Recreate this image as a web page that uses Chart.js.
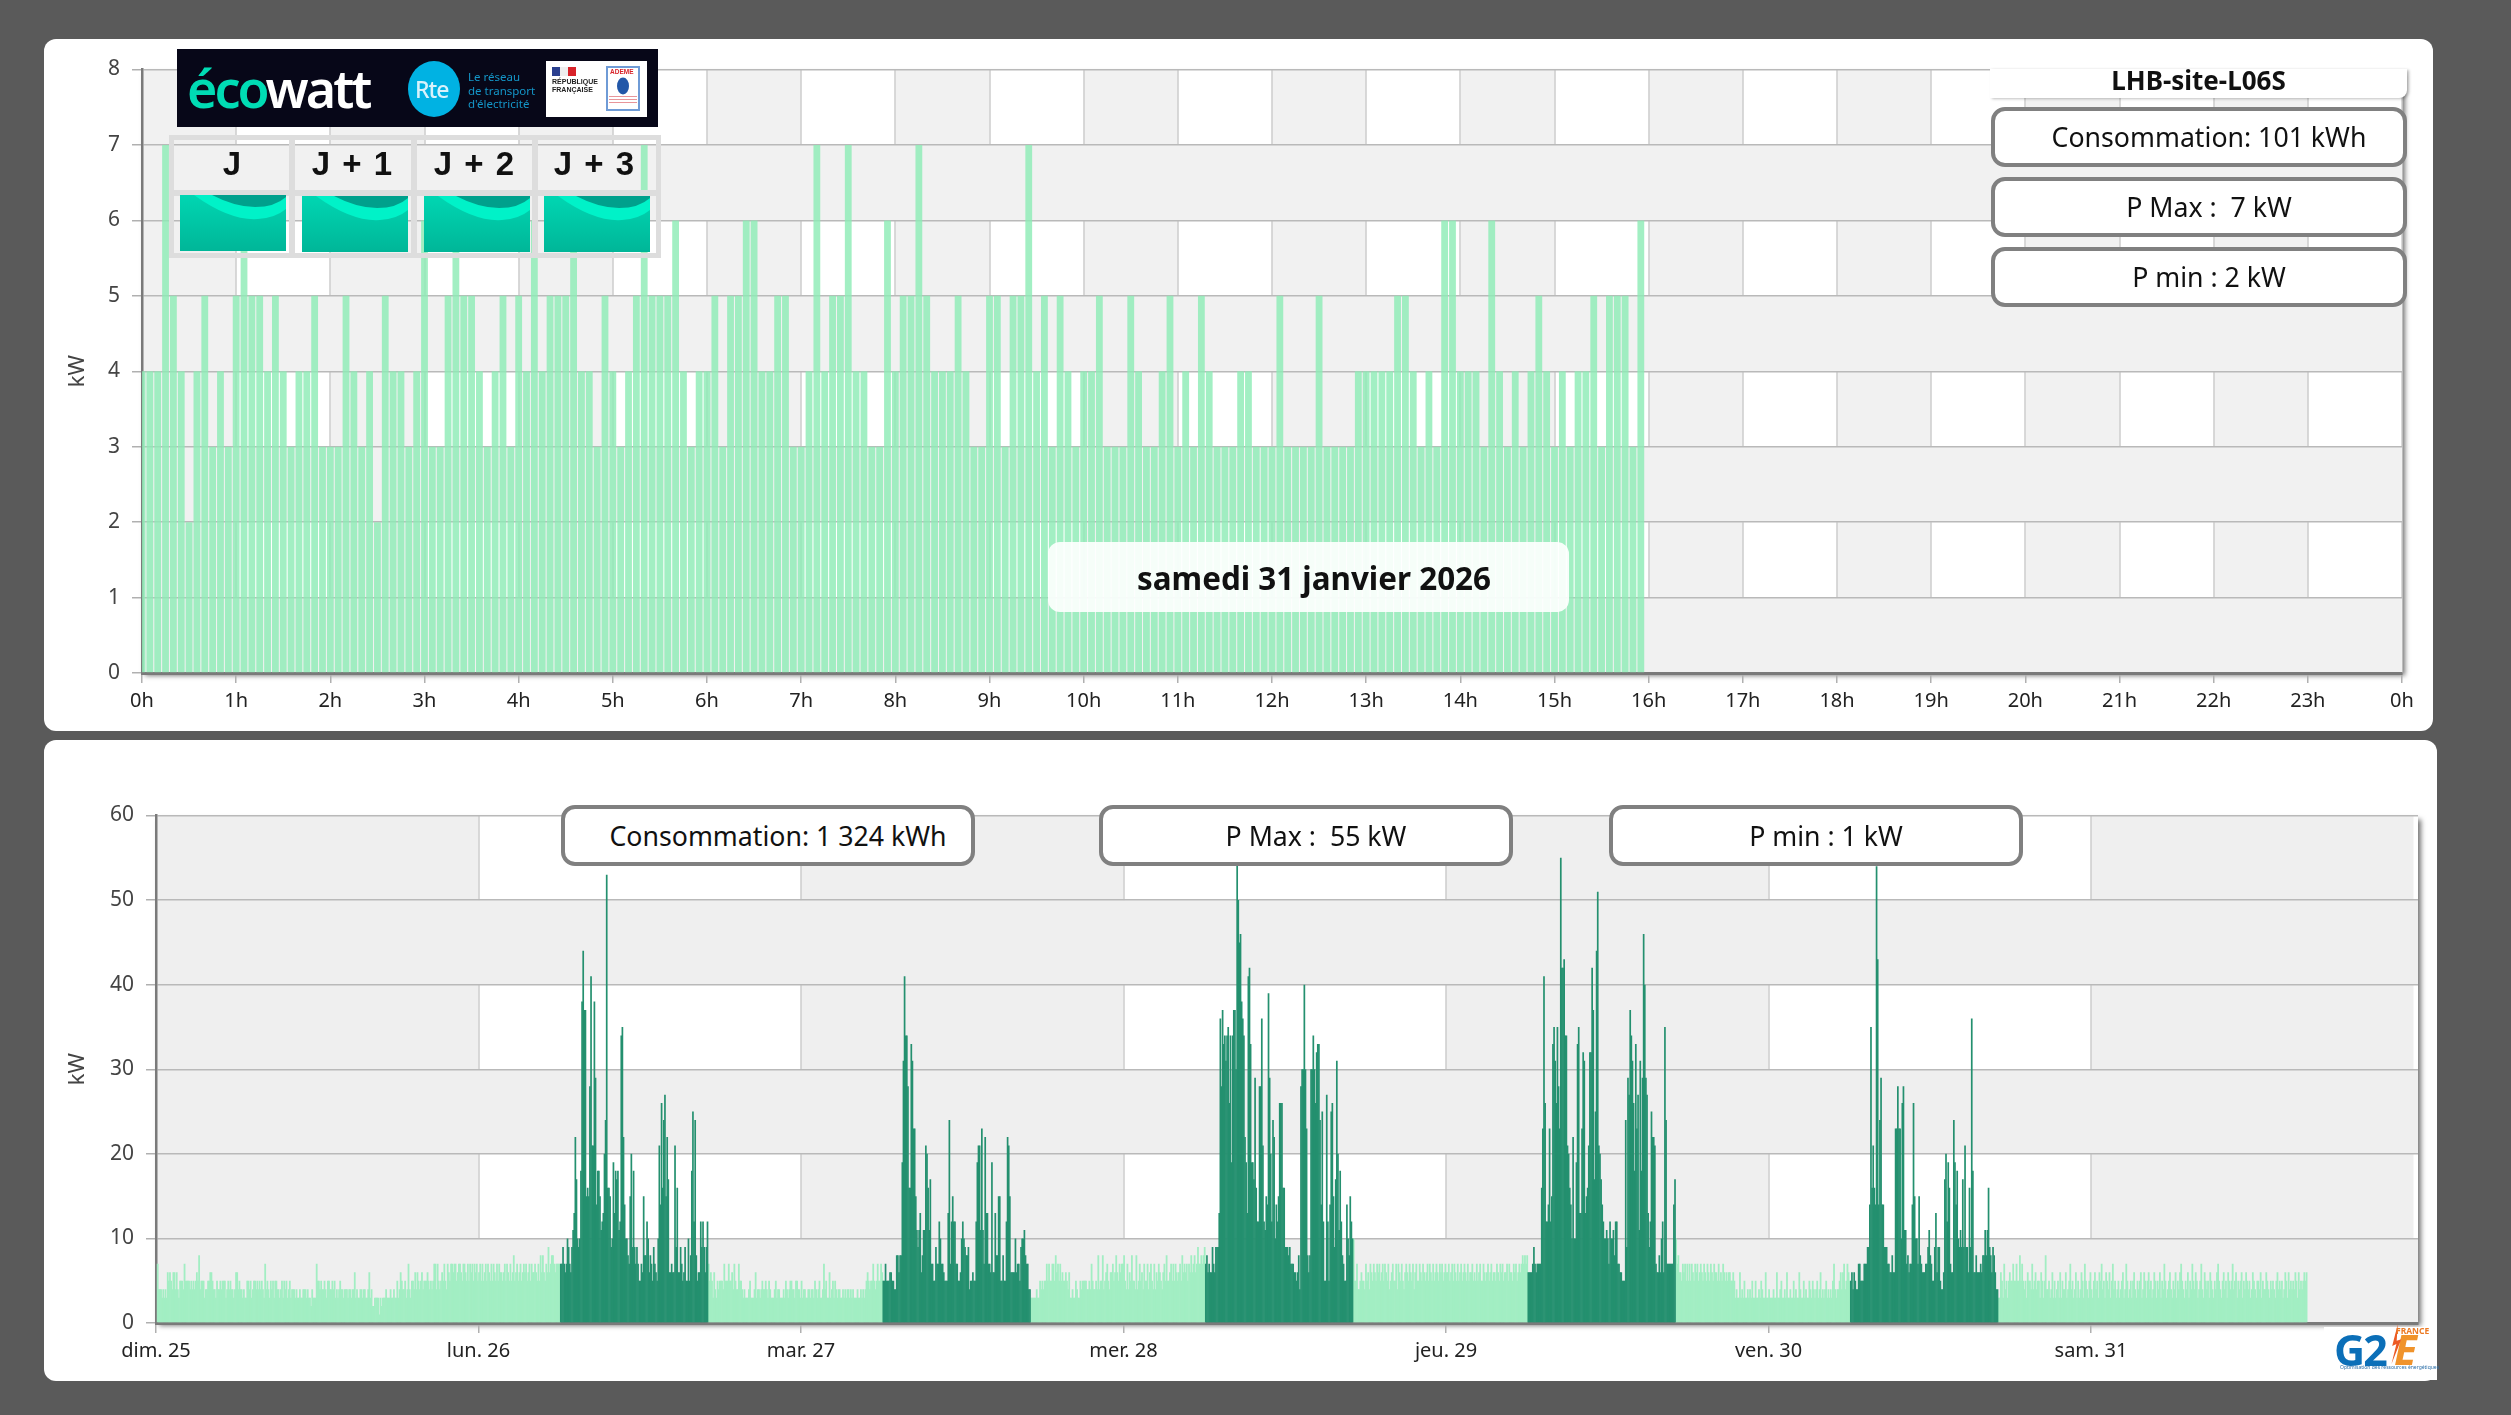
<!DOCTYPE html>
<html lang="fr">
<head>
<meta charset="utf-8">
<title>LHB-site-L06S</title>
<script src="https://cdn.jsdelivr.net/npm/chart.js@4/dist/chart.umd.min.js"></script>
<style>
    html, body { margin: 0; padding: 0; width: 2511px; height: 1415px; overflow: hidden; background: #5a5a5a; font-family: "Noto Sans", sans-serif; }
    .panel { position: absolute; background: #fff; border-radius: 12px; }
    canvas { position: absolute; }
    .box { position: absolute; box-sizing: border-box; background: #fff; border: 4px solid #808080; border-radius: 14px; font-size: 26.7px; color: #111; text-align: center; padding-left: 20px; white-space: pre; }
    .abs { position: absolute; white-space: pre; }
    #sitetitle { left: 1990px; top: 69px; width: 417px; height: 29px; background: #fff; border-bottom-right-radius: 8px; box-shadow: 2px 1px 3px rgba(0,0,0,.25); text-align: center; font-weight: 700; font-size: 26px; line-height: 22px; color: #111; }
    #datebox { box-sizing: border-box; left: 1048px; top: 542px; width: 521px; height: 70px; padding-left: 11px; background: rgba(255,255,255,.9); border-radius: 12px; text-align: center; font-weight: 700; font-size: 31.4px; line-height: 72px; color: #111; }
    #banner { left: 177px; top: 49px; width: 481px; height: 78px; background: #070718; }
    #jtable { left: 169px; top: 135px; width: 492px; height: 123px; box-sizing: border-box; border: 5px solid #ddd; }
    .jsep { position: absolute; background: #ddd; }
    .jlabel { position: absolute; top: 1px; width: 116px; text-align: center; font: 700 33px "Liberation Sans", sans-serif; color: #111; line-height: 46px; word-spacing: 3px; }
</style>
</head>
<body>

<div class="panel" style="left:44px;top:39px;width:2389px;height:692px"></div>
<div class="panel" style="left:44px;top:740px;width:2393px;height:641px"></div>
<canvas id="dayChart" width="2389" height="692" style="left:44px;top:39px"></canvas>
<canvas id="weekChart" width="2393" height="641" style="left:44px;top:740px"></canvas>

<div id="overlays"></div>

<script>
// top chart, one bar every 5 minutes, saturday 31 from 0h to 16h
var todayValues = [
    4,4,4,7,5,4,2,4,5,3,4,3,
    5,6,5,5,4,5,4,3,4,4,5,3,
    3,3,5,4,3,4,2,5,4,4,3,4,
    6,3,3,5,6,5,5,4,3,4,5,3,
    5,4,6,4,5,5,5,6,4,4,3,5,
    4,3,4,5,7,5,5,5,6,4,3,4,
    4,5,3,5,5,6,6,4,4,5,5,3,
    3,4,7,4,5,5,7,4,4,3,3,6,
    4,5,5,7,5,4,4,4,5,4,3,3,
    5,5,3,5,5,7,4,5,3,5,4,3,
    4,4,5,3,3,3,5,4,3,3,4,5,
    3,4,3,5,4,3,3,3,4,4,3,3,
    3,5,3,3,3,3,5,3,3,3,3,4,
    4,4,4,4,5,5,4,3,4,3,6,6,
    4,4,4,3,6,4,3,4,3,4,5,4,
    3,4,3,4,4,5,3,5,5,5,3,6
]
var hourLabels = ['0h','1h','2h','3h','4h','5h','6h','7h','8h','9h','10h','11h','12h','13h','14h','15h','16h','17h','18h','19h','20h','21h','22h','23h','0h']

// bottom chart, one bar every 5 minutes, rows of one hour
var sunday = [
    7,4,4,4,3,4,3,4,3,6,5,6,
    5,4,6,6,4,6,4,3,5,5,5,4,
    7,5,5,5,5,4,5,4,5,4,5,6,
    5,8,4,5,5,5,3,4,4,5,5,6,
    6,5,4,4,3,5,4,4,5,4,5,5,
    5,3,4,5,4,5,4,4,3,4,6,6,
    4,5,4,4,3,4,3,3,5,5,4,5,
    3,4,5,5,4,5,4,5,4,5,4,3,
    7,4,5,4,3,5,4,5,3,5,5,4,
    4,3,4,5,3,5,4,5,3,4,5,3,
    4,4,4,3,4,3,3,4,3,3,4,4,
    4,3,4,3,3,2,4,3,3,3,7,5,
    5,4,5,4,4,5,4,3,5,5,4,4,
    5,4,5,3,4,3,4,5,4,4,3,4,
    4,4,3,4,4,3,4,4,6,3,4,3,
    3,4,4,3,4,4,3,3,4,6,3,4,
    2,2,3,3,3,3,1,3,2,3,3,3,
    4,3,3,3,4,3,3,4,3,3,5,3,
    4,6,5,4,4,5,3,4,7,4,3,5,
    5,4,6,4,6,5,4,5,6,4,5,5,
    5,6,5,4,5,4,5,7,7,4,7,5,
    4,5,6,5,7,5,4,7,6,5,7,7,
    6,7,7,5,6,7,7,6,5,7,7,6,
    5,7,5,7,6,7,5,7,6,7,5,6
]
var mondayNight = [
    7,5,7,5,6,7,5,7,6,5,7,5,
    7,6,5,7,5,7,6,6,5,6,7,5,
    7,6,5,7,5,6,8,5,6,7,5,6,
    7,5,6,7,6,7,5,6,7,5,7,6,
    6,7,6,5,7,5,8,6,8,6,5,7,
    6,9,6,7,8,8,7,6,7,7,7,7
]
var mondayWork = [
    7,7,9,7,6,7,10,9,7,6,9,11,
    13,22,17,10,9,10,18,38,44,37,37,15,
    16,15,28,41,21,21,38,29,14,18,18,15,
    11,12,13,20,24,53,16,16,15,9,10,19,
    13,18,17,18,11,12,34,35,22,14,10,10,
    8,7,15,20,9,18,9,7,9,7,5,5,
    7,6,15,8,8,12,10,6,8,7,5,9,
    7,6,5,10,21,14,26,16,24,27,15,22,
    17,6,6,7,6,6,21,9,16,6,6,9,
    7,5,6,9,5,5,10,5,8,18,25,12,
    24,8,5,6,6,12,9,12,9,6,9,12
]
var mondayEvening = [
    7,5,6,5,3,6,4,3,5,4,5,5,
    5,4,7,5,5,5,7,5,5,6,4,7,
    5,4,4,7,5,5,4,3,4,3,3,3,
    4,5,3,3,3,4,6,3,4,4,3,4,
    5,4,4,5,4,3,5,4,3,3,3,4,
    5,3,4,4,3,3,3,4,3,5,4,3,
    4,5,5,4,4,3,5,5,4,4,3,5
]
var tuesdayNight = [
    3,4,4,3,3,4,4,3,4,4,3,5,
    4,3,4,5,3,3,4,7,4,5,3,3,
    6,3,4,5,3,5,4,3,4,4,3,3,
    4,3,4,3,4,4,3,4,3,4,3,3,
    3,4,3,3,4,3,4,3,4,5,6,5,
    4,5,5,7,5,4,5,7,5,5,7,6
]
var tuesdayWork = [
    5,5,7,5,5,5,6,6,5,5,4,4,
    8,8,6,8,8,19,31,41,34,34,28,16,
    16,33,31,23,23,15,11,9,11,13,6,8,
    11,11,21,20,16,11,17,7,7,5,5,9,
    7,7,12,10,7,7,6,5,5,5,13,24,
    7,12,15,12,12,7,7,5,5,6,10,12,
    10,9,8,8,9,4,5,5,6,5,5,12,
    19,21,21,11,23,11,7,22,13,13,7,7,
    6,19,6,6,13,8,8,15,15,5,5,8,
    5,5,12,22,21,15,6,6,6,6,10,6,
    7,7,5,9,10,10,11,8,7,7,4,4
]
var tuesdayEvening = [
    3,3,3,3,3,4,3,3,5,4,5,4,
    5,5,7,5,7,5,5,7,7,5,8,6,
    7,5,7,5,6,5,5,6,5,4,6,3,
    3,4,3,3,5,4,3,3,5,4,5,5,
    5,5,4,4,5,4,7,5,4,4,5,4,
    8,4,5,5,8,4,5,6,7,5,4,6,
    6,7,5,6,8,6,5,7,6,7,7,8
]
var wednesdayNight = [
    5,4,7,4,6,5,8,5,5,4,8,4,
    5,7,5,6,4,7,5,5,7,4,6,7,
    5,4,7,4,6,5,7,6,5,4,6,7,
    5,8,5,5,6,7,5,7,5,7,6,5,
    6,7,5,8,6,7,6,7,5,7,6,8,
    6,7,8,6,7,9,7,7,8,7,8,9
]
var wednesdayWork = [
    7,8,6,7,6,6,9,7,6,9,9,9,
    13,36,28,37,33,34,31,34,35,26,34,19,
    34,37,37,30,55,50,45,46,38,36,34,22,
    19,13,41,42,33,19,19,17,29,16,12,12,
    28,28,36,21,12,11,15,14,39,29,20,12,
    24,22,10,14,12,15,26,26,26,16,16,9,
    9,9,8,9,7,7,7,6,6,5,6,8,
    4,28,30,30,40,30,23,8,6,8,30,30,
    34,30,26,32,33,33,24,14,25,12,5,5,
    27,12,5,14,25,26,15,9,17,31,20,11,
    18,12,8,7,5,5,14,10,8,15,12,10
]
var wednesdayEvening = [
    10,5,5,7,4,4,5,6,5,5,4,7,
    5,6,4,7,6,5,7,6,5,7,6,7,
    5,6,7,5,7,6,5,7,4,5,6,7,
    5,5,7,4,7,6,5,7,5,4,6,7,
    6,5,7,6,5,7,4,6,7,5,5,7,
    6,5,7,6,5,6,7,5,7,6,5,7,
    5,6,7,6,5,7,6,7,5,6,7,6
]
var thursdayNight = [
    6,7,5,6,7,5,7,6,5,7,5,6,
    7,5,6,7,6,5,7,5,6,6,7,5,
    6,5,7,5,6,7,5,5,7,6,5,6,
    7,5,6,7,5,6,6,5,7,6,5,7,
    6,7,5,6,6,7,5,7,6,6,5,7,
    6,7,5,6,7,6,7,8,7,8,7,8
]
var thursdayWork = [
    6,6,6,6,7,9,7,6,7,7,7,7,
    16,23,41,26,12,12,14,23,12,15,33,35,
    31,26,35,28,23,55,42,42,43,34,34,21,
    20,16,14,10,22,10,10,19,33,35,13,13,
    23,32,31,13,15,16,21,32,32,42,37,17,
    25,44,51,21,20,17,14,12,10,10,11,10,
    7,12,10,10,11,8,12,12,7,7,6,6,
    5,5,5,24,9,29,27,37,34,31,26,18,
    33,23,27,11,31,18,29,46,40,29,27,13,
    9,12,25,22,22,21,7,6,6,8,6,10,
    12,6,35,24,7,7,7,7,7,7,14,17
]
var thursdayEvening = [
    10,7,8,6,6,5,7,6,7,5,7,5,
    7,5,7,6,5,7,6,7,5,6,7,6,
    5,7,6,5,7,6,5,7,6,5,7,6,
    6,5,7,5,6,5,7,6,5,6,5,6,
    6,5,5,6,5,3,4,3,3,6,3,4,
    3,5,3,3,4,3,4,3,5,3,3,5,
    3,3,4,3,5,4,3,3,6,3,3,4
]
var fridayNight = [
    3,3,3,4,3,3,6,3,3,4,5,3,
    3,4,3,6,3,3,4,3,3,5,3,4,
    3,3,6,4,3,3,5,3,4,3,3,5,
    4,3,5,4,3,4,5,3,4,6,3,4,
    3,4,5,3,4,3,4,3,5,7,4,3,
    4,4,5,6,4,6,7,4,5,7,6,5
]
var fridayWork = [
    5,6,4,6,5,4,4,7,7,5,5,5,
    7,7,7,9,9,14,35,16,21,16,14,54,
    43,14,24,29,14,14,9,9,9,7,7,6,
    6,8,6,6,23,23,28,23,23,10,26,28,
    11,11,7,8,6,7,7,14,26,15,10,10,
    7,15,8,7,6,6,6,7,7,9,11,8,
    7,5,5,9,13,6,9,9,5,4,4,6,
    17,20,12,19,16,7,6,6,24,19,14,18,
    10,9,11,9,17,9,21,9,9,6,16,9,
    36,18,6,6,8,6,6,6,7,6,8,8,
    11,8,11,16,9,8,6,9,8,6,4,4
]
var fridayEvening = [
    3,3,6,5,3,7,4,5,3,5,6,5,
    5,7,5,5,7,5,5,8,5,7,5,4,
    5,3,6,5,5,4,7,4,5,6,4,5,
    5,3,6,5,3,5,8,4,4,5,3,4,
    6,3,5,3,4,5,3,6,3,5,4,4,
    6,3,4,5,7,4,5,3,4,6,3,5,
    3,4,6,5,3,7,5,4,3,5,6,4
]
var saturday = [
    3,5,6,4,5,3,6,5,7,4,5,3,
    6,5,4,6,3,5,7,4,5,3,4,5,
    3,4,5,6,3,4,7,5,3,4,5,3,
    5,6,4,3,5,4,5,6,3,4,6,5,
    3,5,6,4,5,3,4,6,5,3,5,4,
    6,3,5,4,7,5,3,4,5,6,4,3,
    5,4,6,3,5,4,6,7,5,4,3,5,
    4,6,3,5,4,7,5,4,6,5,3,4,
    5,7,4,3,6,5,4,5,3,6,5,4,
    3,5,4,6,7,5,4,3,5,6,4,5,
    3,6,5,4,5,7,4,5,6,3,5,4,
    5,6,3,5,4,6,5,4,5,3,4,6,
    5,4,3,5,5,4,6,3,5,4,4,6,
    5,4,3,5,4,5,4,3,5,6,4,5,
    4,5,3,4,6,5,3,6,4,5,4,5,
    4,6,5,3,6,4,5,4,5,6,5,6
]
var dayLabels = ['dim. 25','lun. 26','mar. 27','mer. 28','jeu. 29','ven. 30','sam. 31']

var offHours = [sunday, mondayNight, null, mondayEvening, tuesdayNight, null, tuesdayEvening, wednesdayNight, null, wednesdayEvening, thursdayNight, null, thursdayEvening, fridayNight, null, fridayEvening, saturday]
var workHours = [mondayWork, tuesdayWork, wednesdayWork, thursdayWork, fridayWork]

var tickFont = { family: 'Noto Sans', size: 20 }

function buildWeek() {
    var light = [], dark = [], pos = 1.5, w = 0
    offHours.forEach(function(part) {
        var source = part || workHours[w++]
        var target = part ? light : dark
        source.forEach(function(v) { target.push({ x: pos++, y: v }) })
    })
    return { light: light, dark: dark }
}

// grey bands under the grid. The vertical lines go between the two sets of bands,
// the horizontal grey rows hide them like in the original
var bandsPlugin = {
    id: 'bands',
    beforeDraw: function(chart, args, opts) {
        var { ctx, chartArea: a, scales: { x, y } } = chart
        ctx.save()
        ctx.shadowColor = 'rgba(0,0,0,.55)'
        ctx.shadowBlur = 5
        ctx.shadowOffsetX = 3
        ctx.shadowOffsetY = 3
        ctx.fillStyle = '#fff'
        ctx.fillRect(a.left, a.top, a.width, a.height)
        ctx.restore()
        ctx.save()
        ctx.fillStyle = opts.color
        for (var v = 0; v < x.max; v += opts.xStep * 2) {
            var x0 = x.getPixelForValue(v), x1 = x.getPixelForValue(Math.min(v + opts.xStep, x.max))
            ctx.fillRect(x0, a.top, x1 - x0, a.height)
        }
        ctx.strokeStyle = '#cdcdcd'
        ctx.lineWidth = 1.5
        x.ticks.forEach(function(t) {
            var px = Math.round(x.getPixelForValue(t.value))
            ctx.beginPath()
            ctx.moveTo(px, a.top)
            ctx.lineTo(px, a.bottom)
            ctx.stroke()
        })
        for (var u = 0; u < y.max; u += opts.yStep * 2) {
            var y0 = y.getPixelForValue(u), y1 = y.getPixelForValue(u + opts.yStep)
            ctx.fillRect(a.left, y1, a.width, y0 - y1)
        }
        ctx.restore()
    }
}

function axes(cfg) {
    return {
        x: {
            type: 'linear', min: 0, max: cfg.xMax, offset: false, afterFit: function(s) { s.height = cfg.bottom },
            afterBuildTicks: function(s) { s.ticks = cfg.labels.map(function(l, i) { return { value: i * cfg.xStep } }) },
            border: { display: true, color: '#7a7a7a', width: 3 },
            grid: { offset: false, drawOnChartArea: false, tickLength: 10, tickColor: '#b0b0b0', lineWidth: 1.5 },
            ticks: { autoSkip: false, maxRotation: 0, color: '#222', font: tickFont, padding: 6,
                callback: function(v) { return cfg.labels[v / cfg.xStep] } }
        },
        y: {
            min: 0, max: cfg.yMax, afterFit: function(s) { s.width = cfg.left },
            border: { display: true, color: '#7a7a7a', width: 2.5 },
            grid: { color: '#b9b9b9', lineWidth: 1.5, tickLength: 10, tickColor: '#b0b0b0' },
            ticks: { stepSize: cfg.yStep, color: '#444', font: { family: 'Noto Sans', size: 21 }, padding: 12 },
            title: { display: true, text: 'kW', color: '#444', font: { family: 'Noto Sans', size: 22 }, padding: { top: 21, bottom: 0 } }
        }
    }
}

function baseOptions(cfg, padding) {
    return {
        responsive: false, animation: false, devicePixelRatio: 1,
        layout: { padding: padding },
        plugins: { legend: { display: false }, tooltip: { enabled: false },
            bands: { color: cfg.band, xStep: cfg.xStep, yStep: cfg.yStep } },
        scales: axes(cfg)
    }
}

new Chart(document.getElementById('dayChart'), {
    type: 'bar',
    plugins: [bandsPlugin],
    data: { datasets: [{
        data: todayValues.map(function(v, i) { return { x: i, y: v } }),
        backgroundColor: 'rgba(142,235,182,0.82)', barThickness: 6.8, inflateAmount: 0
    }] },
    options: baseOptions({ xMax: 288, xStep: 12, labels: hourLabels, yMax: 8, yStep: 1, left: 98, bottom: 58, band: '#f1f1f1' },
        { top: 30.5, right: 31, left: 0, bottom: 0 })
})

var week = buildWeek()
new Chart(document.getElementById('weekChart'), {
    type: 'bar',
    plugins: [bandsPlugin],
    data: { datasets: [
        { data: week.dark, backgroundColor: '#24906f', barThickness: 1.7, inflateAmount: 0, grouped: false },
        { data: week.light, backgroundColor: '#a2eec3', barThickness: 1.8, inflateAmount: 0, grouped: false }
    ] },
    options: baseOptions({ xMax: 2020, xStep: 288, labels: dayLabels, yMax: 60, yStep: 10, left: 112, bottom: 58, band: '#efefef' },
        { top: 75.5, right: 19, left: 0, bottom: 0 })
})

// boxes and logos above the charts
function box(text, left, top, width, height) {
    return `<div class="box" style="left:${left}px;top:${top}px;width:${width}px;height:${height}px;line-height:${height - 8}px">${text}</div>`
}

function wave(left, top) {
    return `<svg class="abs" style="left:${left}px;top:${top}px" width="106" height="56" viewBox="0 0 106 56">
        <defs><linearGradient id="w${left}" x1="0" y1="0" x2="0" y2="1"><stop offset="0" stop-color="#00d6b2"/><stop offset="1" stop-color="#00b698"/></linearGradient></defs>
        <rect width="106" height="56" fill="url(#w${left})"/>
        <path d="M14 0 Q50 26 78 24 Q95 23 106 14 V0 Z" fill="#00f2c8"/>
        <path d="M32 0 Q55 12 75 12 Q95 12 106 2 V0 Z" fill="#00a08c"/>
    </svg>`
}

var jColumns = [['J', 0], ['J + 1', 120], ['J + 2', 242], ['J + 3', 362]]

var overlay = `
    <div class="abs" id="sitetitle">LHB-site-L06S</div>
    ${box('Consommation: 101 kWh', 1991, 107, 416, 60)}
    ${box('P Max :  7 kW', 1991, 177, 416, 60)}
    ${box('P min : 2 kW', 1991, 247, 416, 60)}
    <div class="abs" id="datebox">samedi 31 janvier 2026</div>
    ${box('Consommation: 1 324 kWh', 561, 805, 414, 61)}
    ${box('P Max :  55 kW', 1099, 805, 414, 61)}
    ${box('P min : 1 kW', 1609, 805, 414, 61)}

    <div class="abs" id="banner">
        <div class="abs" style="left:10px;top:-1px;font:600 52px/80px 'Noto Sans';letter-spacing:-3px;color:#fff"><span style="color:#00dcb4">éco</span>watt</div>
        <svg class="abs" style="left:231px;top:12px" width="52" height="56"><ellipse cx="26" cy="28" rx="26" ry="28" fill="#00b2e3"/></svg>
        <div class="abs" style="left:238px;top:26px;font:500 23px/28px 'Noto Sans';color:#d8f2fb;letter-spacing:-1px">Rte</div>
        <div class="abs" style="left:291px;top:21px;font:11.5px/13.5px 'Noto Sans';color:#1496c8">Le réseau
de transport
d'électricité</div>
        <div class="abs" style="left:369px;top:12px;width:101px;height:56px;background:#fff"></div>
        <div class="abs" style="left:375px;top:18px;width:8px;height:9px;background:#2a3f8f"></div>
        <div class="abs" style="left:383px;top:18px;width:8px;height:9px;background:#eee"></div>
        <div class="abs" style="left:391px;top:18px;width:8px;height:9px;background:#d8232a"></div>
        <div class="abs" style="left:375px;top:29px;font:700 7px/8px 'Liberation Sans';color:#222">RÉPUBLIQUE
FRANÇAISE</div>
        <div class="abs" style="left:429px;top:17px;width:34px;height:45px;border:2px solid #6f9bd6;box-sizing:border-box;background:#fff"></div>
        <div class="abs" style="left:433px;top:18px;font:700 6.5px/9px 'Liberation Sans';color:#d8232a">ADEME</div>
        <svg class="abs" style="left:439px;top:28px" width="14" height="18"><ellipse cx="7" cy="9" rx="6" ry="8.5" fill="#2257a8"/></svg>
        <div class="abs" style="left:432px;top:47px;width:28px;height:9px;background:repeating-linear-gradient(#e8959a 0 1.5px,#fff 1.5px 3px)"></div>
    </div>

    <div class="abs" id="jtable">
        <div class="jsep" style="left:0;top:50px;width:482px;height:6px"></div>
        <div class="jsep" style="left:115px;top:0;width:6px;height:113px"></div>
        <div class="jsep" style="left:237px;top:0;width:6px;height:113px"></div>
        <div class="jsep" style="left:358px;top:0;width:6px;height:113px"></div>
        ${jColumns.map(function(c) { return `<div class="jlabel" style="left:${c[1]}px">${c[0]}</div>` }).join('')}
    </div>
    ${wave(180, 195)}${wave(302, 196)}${wave(424, 196)}${wave(544, 196)}

    <div class="abs" style="left:2324px;top:1327px;width:113px;height:53px;background:#fff"></div>
    <div class="abs" style="left:2334px;top:1322px;font:700 43px/56px 'Noto Sans';letter-spacing:-2px;color:#0b6fb8">G2</div>
    <div class="abs" style="left:2394px;top:1322px;font:italic 700 42px/54px 'Noto Sans';color:#f0932b">E</div>
    <div class="abs" style="left:2388px;top:1324px;width:14px;height:40px;background:#ec5a24;clip-path:polygon(70% 0,30% 55%,60% 50%,25% 100%,95% 38%,62% 42%)"></div>
    <div class="abs" style="left:2396px;top:1326px;font:700 8.5px/10px 'Noto Sans';color:#ec7a24">FRANCE</div>
    <div class="abs" style="left:2340px;top:1364px;font:5px/6px 'Noto Sans';color:#2c6fa8">Optimisation des ressources énergétiques</div>
`
document.getElementById('overlays').innerHTML = overlay
</script>
</body>
</html>
